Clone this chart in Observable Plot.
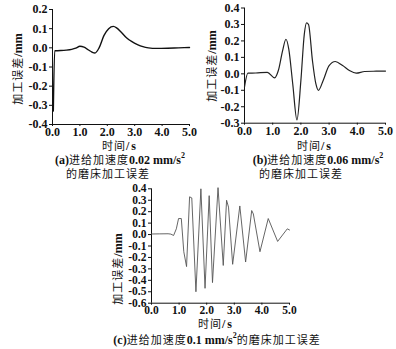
<!DOCTYPE html>
<html><head><meta charset="utf-8">
<script src="https://cdn.jsdelivr.net/npm/d3@7"></script>
<script src="https://cdn.jsdelivr.net/npm/@observablehq/plot@0.6"></script>
<style>
body{margin:0;background:#fff;}
#root{position:relative;width:396px;height:349px;overflow:hidden;background:#fff;color:#111;}
.p{position:absolute;}
.lbl{position:absolute;font-size:12px;white-space:nowrap;line-height:1;transform:translate(-50%,-50%);}
.rot{transform:translate(-50%,-50%) rotate(-90deg);}
.cjk{display:inline-block;line-height:11px;font-family:"Noto Sans CJK SC";font-weight:400;font-size:11px;letter-spacing:1px;}
.b{display:inline-block;line-height:11px;font-family:"Liberation Serif";font-weight:bold;font-size:12px;}
sup{font-size:8px;vertical-align:6px;line-height:0;}
</style></head><body><div id="root"></div>
<script>
// ---- data ----
const xTicks = [0, 1, 2, 3, 4, 5];
const yTicksA = [-0.4, -0.3, -0.2, -0.1, 0, 0.1, 0.2];
const yTicksB = [-0.3, -0.2, -0.1, 0, 0.1, 0.2, 0.3, 0.4];
const yTicksC = [-0.6, -0.5, -0.4, -0.3, -0.2, -0.1, 0, 0.1, 0.2, 0.3, 0.4];

const tA = [0.03, 0.08, 0.1, 0.3, 0.5, 0.7, 0.85, 1.0, 1.15, 1.3, 1.45, 1.55, 1.7, 1.88, 2.05, 2.22, 2.35, 2.5, 2.7, 2.9, 3.1, 3.3, 3.5, 3.8, 4.2, 4.6, 5.0];
const yA = [-0.33, -0.015, -0.015, -0.014, -0.012, -0.008, -0.002, 0.008, 0.004, -0.01, -0.023, -0.027, 0.0, 0.065, 0.1, 0.112, 0.103, 0.083, 0.053, 0.032, 0.017, 0.006, 0.0, -0.003, -0.002, 0.0, 0.002];

const tB = [0, 0.12, 0.4, 0.81, 1.07, 1.2, 1.35, 1.47, 1.57, 1.71, 1.86, 2.0, 2.12, 2.2, 2.27, 2.41, 2.53, 2.62, 2.79, 3.0, 3.22, 3.48, 3.72, 3.96, 4.26, 4.67, 5.0];
const yB = [-0.08, 0.004, 0.005, 0.009, -0.024, 0.02, 0.14, 0.21, 0.15, -0.06, -0.28, -0.04, 0.24, 0.31, 0.30, 0.08, -0.06, -0.10, -0.04, 0.05, 0.075, 0.05, 0.02, 0.004, 0.014, 0.016, 0.017];

const tC = [0, 0.3, 0.6, 0.7, 0.8, 0.9, 0.98, 1.08, 1.17, 1.27, 1.38, 1.46, 1.61, 1.79, 1.94, 2.09, 2.21, 2.41, 2.6, 2.72, 2.79, 2.94, 3.2, 3.41, 3.63, 3.69, 3.93, 4.23, 4.57, 4.92, 5.0];
const yC = [0.005, 0.006, 0.007, 0.004, -0.008, 0.05, 0.14, 0.14, -0.15, -0.28, 0.33, 0.32, -0.50, 0.40, -0.47, 0.34, -0.42, 0.41, -0.27, 0.30, 0.24, -0.26, 0.25, -0.24, 0.21, 0.18, -0.15, 0.14, -0.06, 0.05, 0.04];

const xLabel = "时间";
const yLabel = "加工误差";
const captionA = ["(a)", "进给加速度", "0.02 mm/s", "的磨床加工误差"];
const captionB = ["(b)", "进给加速度", "0.06 mm/s", "的磨床加工误差"];
const captionC = ["(c)", "进给加速度", "0.1 mm/s", "的磨床加工误差"];

// ---- drawing ----
const root = document.getElementById("root");
const fmt = d => d.toFixed(1);

function panel(o) {
  const svg = Plot.plot({
    width: o.width, height: o.height,
    marginLeft: o.ml, marginRight: o.mr, marginTop: o.mt, marginBottom: o.mb,
    style: {background: "transparent", overflow: "visible", fontFamily: "Liberation Serif", fontWeight: "bold", fontSize: o.fs + "px", color: "#111"},
    x: {domain: [0, 5]},
    y: {domain: [o.yTicks[0], o.yTicks[o.yTicks.length - 1]]},
    marks: [
      Plot.axisY(o.yTicks, {tickSize: 3, tickPadding: 2, tickFormat: fmt, label: null, fontSize: o.fs, fontWeight: "bold", stroke: "#111"}),
      Plot.axisX(xTicks, {tickSize: 2, tickPadding: 1, tickFormat: fmt, label: null, fontSize: o.fs, fontWeight: "bold", stroke: "#111"}),
      Plot.ruleX([0], {stroke: "#111", strokeWidth: 1}),
      Plot.ruleY([o.yTicks[0]], {stroke: "#111", strokeWidth: 1}),
      Plot.line(o.y, {x: o.t, y: o.y, curve: o.curve, stroke: o.stroke, strokeWidth: o.sw})
    ]
  });
  svg.classList.add("p");
  svg.style.left = o.left + "px";
  svg.style.top = o.top + "px";
  root.appendChild(svg);
}

function label(html, x, y, cls) {
  const d = document.createElement("div");
  d.className = "lbl " + (cls || "");
  d.style.left = x + "px";
  d.style.top = y + "px";
  d.innerHTML = html;
  root.appendChild(d);
}
const ylab = `<span class="cjk">${yLabel}</span><span class="b">/mm</span>`;
const xlab = `<span class="cjk">${xLabel}</span><span class="b" style="letter-spacing:2px">/s</span>`;
const cap1 = c => `<span class="b">${c[0]}</span><span class="cjk">${c[1]}</span><span class="b">${c[2]}<sup>2</sup></span>`;
const cap2 = c => `<span class="cjk">${c[3]}</span>`;

panel({t: tA, y: yA, yTicks: yTicksA, left: 0, top: 0, width: 198, height: 150, ml: 52, mr: 9, mt: 9, mb: 26, fs: 12, stroke: "#111", sw: 1.4, curve: "monotone-x"});
panel({t: tB, y: yB, yTicks: yTicksB, left: 198, top: 0, width: 198, height: 150, ml: 46, mr: 11, mt: 7.5, mb: 27.3, fs: 12, stroke: "#222", sw: 1.2, curve: "monotone-x"});
panel({t: tC, y: yC, yTicks: yTicksC, left: 90, top: 180, width: 220, height: 140, ml: 61, mr: 21, mt: 8.3, mb: 17.3, fs: 11.5, stroke: "#555", sw: 0.9, curve: "linear"});

label(ylab, 18, 69, "rot");
label(xlab, 120, 146);
label(cap1(captionA), 120, 160);
label(cap2(captionA), 108, 174);

label(ylab, 212, 66, "rot");
label(xlab, 315, 146);
label(cap1(captionB), 318, 160);
label(cap2(captionB), 301, 174);

label(ylab, 118, 269, "rot");
label(xlab, 216, 324);
label(cap1(captionC) + cap2(captionC), 217, 340);
</script></body></html>
